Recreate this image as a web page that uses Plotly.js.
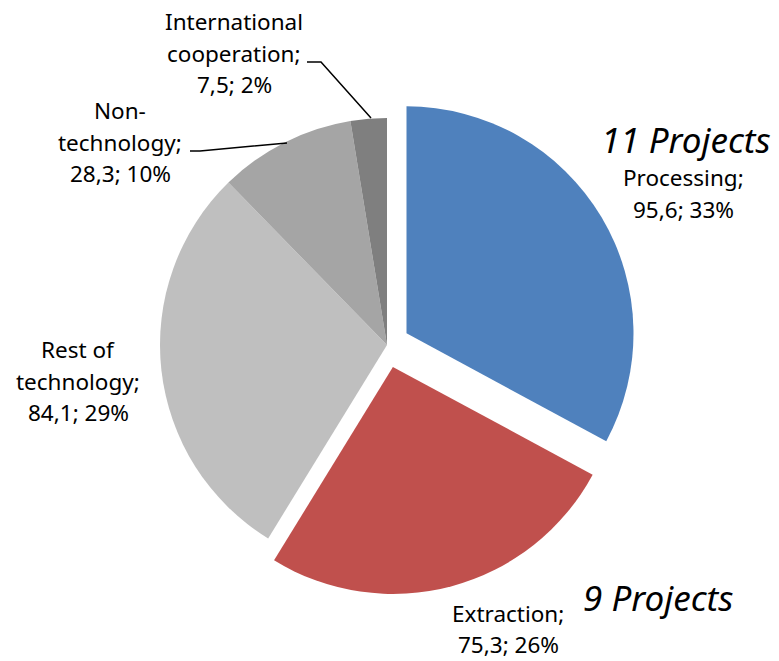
<!DOCTYPE html>
<html>
<head>
<meta charset="utf-8">
<script src="https://cdn.plot.ly/plotly-3.0.1.min.js"></script>
<style>html,body{margin:0;padding:0;background:#fff}#chart{width:779px;height:661px}</style>
</head>
<body>
<div id="chart"></div>
<script>
var categories = ["Processing", "Extraction", "Rest of technology", "Non-technology", "International cooperation"];
var values = [95.6, 75.3, 84.1, 28.3, 7.5];
var pctLabels = ["33%", "26%", "29%", "10%", "2%"];
var valueLabels = ["95,6", "75,3", "84,1", "28,3", "7,5"];
var labelLines = [
  ["Processing;", "95,6; 33%"],
  ["Extraction;", "75,3; 26%"],
  ["Rest of", "technology;", "84,1; 29%"],
  ["Non-", "technology;", "28,3; 10%"],
  ["International", "cooperation;", "7,5; 2%"]
];
var projectNotes = ["11 Projects", "9 Projects"];
var pulls = [0.1, 0.1, 0, 0, 0];
var colors = ["#4F81BD", "#C0504D", "#BFBFBF", "#A5A5A5", "#7F7F7F"];

var W = 779, H = 661;
function px(x){ return x / W; }
function py(y){ return 1 - y / H; }

var cx = 387, cy = 345, r = 227, half = r * 1.1;

var trace = {
  type: "pie",
  labels: categories,
  values: values,
  sort: false,
  direction: "clockwise",
  rotation: 0,
  pull: pulls,
  marker: {colors: colors, line: {width: 0}},
  textinfo: "none",
  hoverinfo: "label+value+percent",
  showlegend: false,
  domain: {x: [px(cx - half), px(cx + half)], y: [py(cy + half), py(cy - half)]}
};

var font = {family: "Noto Sans, DejaVu Sans, sans-serif", size: 22.5, color: "#000"};
var bigFont = {family: "Noto Sans, DejaVu Sans, sans-serif", size: 35, color: "#000"};

function ann(text, x, y, f){
  return {text: text, x: px(x), y: py(y), xref: "paper", yref: "paper", showarrow: false,
          font: f, align: "center", xanchor: "center", yanchor: "middle"};
}

// label block positions: [center x, first line center y]
var labelPos = [[683, 178], [508, 613], [78, 350], [120, 111], [234, 22]];
var lineGap = 31;
var annotations = [];
labelLines.forEach(function(lines, i){
  lines.forEach(function(t, j){
    annotations.push(ann(t, labelPos[i][0], labelPos[i][1] + j * lineGap, font));
  });
});
annotations.push(ann("<i>" + projectNotes[0] + "</i>", 686, 140, bigFont));
annotations.push(ann("<i>" + projectNotes[1] + "</i>", 658, 597, bigFont));

var shapes = [
  {type: "path", xref: "paper", yref: "paper",
   path: "M " + px(307) + "," + py(62) + " L " + px(321) + "," + py(62) + " L " + px(371) + "," + py(118),
   line: {color: "#000", width: 1.5}},
  {type: "path", xref: "paper", yref: "paper",
   path: "M " + px(190) + "," + py(151) + " L " + px(200) + "," + py(151) + " L " + px(287) + "," + py(143),
   line: {color: "#000", width: 1.5}}
];

var layout = {
  width: W, height: H,
  margin: {l: 0, r: 0, t: 0, b: 0},
  paper_bgcolor: "#fff",
  plot_bgcolor: "#fff",
  showlegend: false,
  annotations: annotations,
  shapes: shapes
};

Plotly.newPlot("chart", [trace], layout, {displayModeBar: false, staticPlot: true});
</script>
</body>
</html>
